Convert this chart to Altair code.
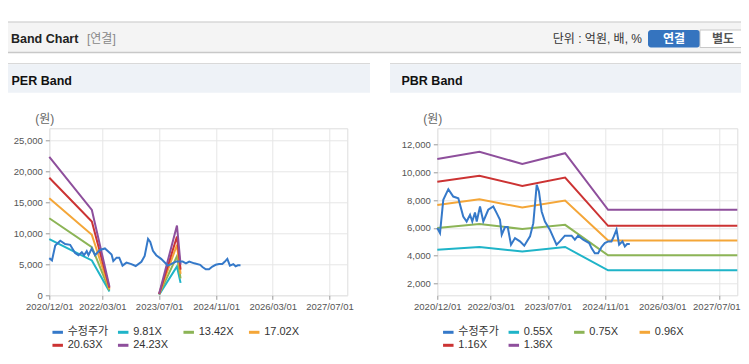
import altair as alt
import pandas as pd

# ---------------- data ----------------
price_dates = ["2020-12-01","2020-12-24","2021-01-21","2021-03-05","2021-04-16","2021-05-29","2021-07-10","2021-08-08",
               "2021-09-06","2021-09-25","2021-10-18","2021-11-02","2021-11-30","2021-12-28","2022-02-08","2022-03-23",
               "2022-04-21","2022-05-19","2022-06-03","2022-07-01","2022-07-24","2022-08-21","2022-09-24","2022-11-05",
               "2022-12-12","2023-01-30","2023-02-27","2023-03-28","2023-04-16","2023-05-09","2023-06-06","2023-07-18",
               "2023-09-13","2023-10-11","2023-11-23","2024-01-19","2024-02-16","2024-03-15","2024-04-27","2024-06-17",
               "2024-07-07","2024-08-04","2024-09-01","2024-09-30","2024-10-28","2024-11-26","2024-12-24","2025-01-13",
               "2025-02-05","2025-02-27","2025-03-28","2025-04-17","2025-05-06","2025-05-29"]
price_values = [5990,5630,8010,8780,8250,8130,6820,6460,6940,6460,7110,6460,7540,6460,7300,7540,
                7060,6580,5510,6060,6060,4790,5270,5030,4720,5390,6340,9090,8610,7180,6460,5870,
                4790,5030,5440,5440,5150,5440,5150,4910,4550,4180,4180,4630,4910,5030,5030,5390,
                5870,4790,5030,4670,4840,4840]

per_band_dates = ["2020-12-01","2021-12-01","2022-05-01","2023-07-01","2023-12-01","2024-01-01"]
per_band_segments = [0, 0, 0, 1, 1, 1]
per_names = ["9.81X", "13.42X", "17.02X", "20.63X", "24.23X"]
per_981 = [9050, 5610, 600, 100, 4650, 2000]
per_1342 = [12410, 7760, 800, 150, 6300, 2740]
per_1702 = [15620, 9740, 1000, 180, 8130, 3470]
per_2063 = [18930, 11870, 1200, 220, 9460, 4150]
per_2423 = [22300, 13750, 1400, 250, 11230, 4950]

pbr_band_dates = ["2020-12-01","2021-11-25","2022-11-25","2023-11-25","2024-11-25","2027-12-01"]
pbr_names = ["0.55X", "0.75X", "0.96X", "1.16X", "1.36X"]
pbr_055 = [4430, 4630, 4310, 4630, 2950, 2950]
pbr_075 = [5990, 6270, 5920, 6220, 4030, 4030]
pbr_096 = [7650, 8060, 7460, 7960, 5100, 5100]
pbr_116 = [9320, 9750, 9010, 9610, 6150, 6150]
pbr_136 = [10950, 11470, 10590, 11360, 7300, 7300]

price_name = "수정주가"
x_ticks = ["2020-12-01","2022-03-01","2023-07-01","2024-11-01","2026-03-01","2027-07-01"]
x_domain = ["2020-12-01","2027-12-01"]
per_y_ticks = [0, 5000, 10000, 15000, 20000, 25000]
pbr_y_ticks = [2000, 4000, 6000, 8000, 10000, 12000]

series_colors = ["#3579c9", "#1fb4c8", "#8cb456", "#f4a638", "#cc3333", "#8e4f9c"]

# ---------------- helpers ----------------
def ms(d):
    return int(pd.Timestamp(d, tz="UTC").timestamp() * 1000)

price_df = pd.DataFrame({"t": [ms(d) for d in price_dates], "v": price_values,
                         "s": price_name, "seg": 0})

def band_df(names, lists, dates, segs):
    rows = []
    for n, vals in zip(names, lists):
        for d, v, g in zip(dates, vals, segs):
            rows.append({"t": ms(d), "v": v, "s": n, "seg": g})
    return pd.DataFrame(rows)

per_df = band_df(per_names, [per_981, per_1342, per_1702, per_2063, per_2423], per_band_dates, per_band_segments)
pbr_df = band_df(pbr_names, [pbr_055, pbr_075, pbr_096, pbr_116, pbr_136], pbr_band_dates, [0]*6)

FONT = "Liberation Sans, Noto Sans CJK KR"
one = pd.DataFrame({"k": [1]})

def rect(x1, x2, y1, y2, fill, stroke=None, radius=0):
    kw = dict(fill=fill)
    if stroke:
        kw["stroke"] = stroke
        kw["strokeWidth"] = 1
    if radius:
        kw["cornerRadius"] = radius
    return alt.Chart(one).mark_rect(**kw).encode(
        x=alt.value(x1), x2=alt.value(x2), y=alt.value(y1), y2=alt.value(y2))

def hline(x1, x2, y, color, w=1):
    return alt.Chart(one).mark_rule(color=color, strokeWidth=w).encode(
        x=alt.value(x1), x2=alt.value(x2), y=alt.value(y))

def text(x, y, s, size=12, color="#333", weight="normal", align="left"):
    return alt.Chart(one).mark_text(text=s, font=FONT, fontSize=size, color=color, fontWeight=weight,
                                    align=align, baseline="middle").encode(x=alt.value(x), y=alt.value(y))

PX, PY = 49.3, 128.3          # page position of the PER plot's top-left corner
SVG_W, SVG_H = 733, 341       # drawing size (page starts at 8,8)
last_tick = ms(x_ticks[-1])

def panel(bands, names, width, height, y_domain, y_ticks, leg_x, title, ox, left_edge, right_edge, nudge_last):
    domain = [price_name] + names
    color = alt.Color("s:N", scale=alt.Scale(domain=domain, range=series_colors),
                      legend=alt.Legend(orient="none", legendX=leg_x, legendY=197, direction="horizontal",
                                        columns=4, symbolType="stroke", symbolSize=110, symbolStrokeWidth=3,
                                        labelFontSize=11, labelColor="#333", labelFont=FONT, labelOffset=3,
                                        columnPadding=2.5, rowPadding=0, gridAlign="all", title=None, padding=0))
    label_offset = {"condition": {"test": f"datum.value >= {last_tick}", "value": nudge_last}, "value": 0}
    x = alt.X("t:Q", scale=alt.Scale(domain=[ms(d) for d in x_domain], nice=False, zero=False),
              axis=alt.Axis(values=[ms(d) for d in x_ticks], labelExpr="utcFormat(datum.value, '%Y/%m/%d')",
                            grid=True, gridColor="#e6e6e6", domain=False, tickColor="#999", tickSize=4,
                            labelFontSize=9.5, labelColor="#555", labelFont=FONT, labelPadding=2,
                            labelOffset=label_offset,
                            labelFlush=False, labelOverlap=False, title=None))
    y = alt.Y("v:Q", scale=alt.Scale(domain=y_domain, nice=False, zero=False),
              axis=alt.Axis(values=y_ticks, format=",d", grid=True, gridColor="#e6e6e6", domain=False,
                            tickColor="#999", tickSize=4, labelFontSize=9.5, labelColor="#555", labelFont=FONT,
                            labelPadding=3, title="(원)", titleAngle=0, titleX=-5, titleY=-10,
                            titleAlign="center", titleBaseline="middle", titleFontWeight="normal",
                            titleFontSize=12, titleColor="#666", titleFont=FONT))
    band_layer = alt.Chart(bands).mark_line(strokeWidth=2).encode(
        x=x, y=y, color=color, detail="seg:N")
    price_layer = alt.Chart(price_df).mark_line(strokeWidth=2).encode(
        x=x, y=y, color=color)
    deco = [
        hline(left_edge - ox, right_edge - ox, 63.7 - PY, "#d0d0d0"),
        rect(left_edge - ox, right_edge - ox, 64.2 - PY, 92.7 - PY, "#eef2f7"),
        text(left_edge - ox + 11.5, 80.7 - PY, title, 12.5, "#111", "bold"),
    ]
    return deco, band_layer, price_layer

per_ox, pbr_ox = PX, 437.3
per_deco, per_b, per_p = panel(per_df, per_names, 298, 167, [0, 26900], per_y_ticks, 1.4, "PER Band",
                               per_ox, 0, 370, 0)
pbr_deco, pbr_b, pbr_p = panel(pbr_df, pbr_names, 300, 167, [1160, 13150], pbr_y_ticks, 4, "PBR Band",
                               pbr_ox, 390, 749, -3)

header = [
    rect(0 - per_ox, 749 - per_ox, 22.5 - PY, 52 - PY, "#f4f4f4"),
    hline(0 - per_ox, 749 - per_ox, 22 - PY, "#c4c4c4"),
    hline(0 - per_ox, 749 - per_ox, 52.5 - PY, "#c8c8c8", 1.5),
    text(11 - per_ox, 38.5 - PY, "Band Chart", 12.5, "#222", "bold"),
    text(87 - per_ox, 38.5 - PY, "[연결]", 12, "#888"),
    text(642 - per_ox, 38.7 - PY, "단위 : 억원, 배, %", 12, "#333", align="right"),
    rect(648 - per_ox, 700 - per_ox, 30 - PY, 47.5 - PY, "#3574bf", radius=3),
    rect(700 - per_ox, 746.5 - per_ox, 30 - PY, 47.5 - PY, "#ffffff", stroke="#c8c8c8"),
    text(674 - per_ox, 39 - PY, "연결", 12, "#ffffff", "bold", align="center"),
    text(723 - per_ox, 39 - PY, "별도", 12, "#555", "bold", align="center"),
]

per_chart = alt.layer(*header, *per_deco, per_b, per_p).properties(width=298, height=167)
pbr_chart = alt.layer(*pbr_deco, pbr_b, pbr_p).properties(width=300, height=167)

pad_left, pad_top = PX - 8, PY - 8
chart = alt.hconcat(per_chart, pbr_chart, spacing=90, bounds="flush").resolve_scale(
    color="independent", x="independent", y="independent").resolve_legend(color="independent").properties(
    autosize=alt.AutoSizeParams(type="none"),
    padding={"left": pad_left, "top": pad_top, "right": SVG_W - pad_left, "bottom": SVG_H - pad_top}
).configure_view(stroke="#b4b4b4", strokeWidth=1).configure(background="#ffffff")

chart.save("out.html", embed_options={"renderer": "svg", "actions": False})
